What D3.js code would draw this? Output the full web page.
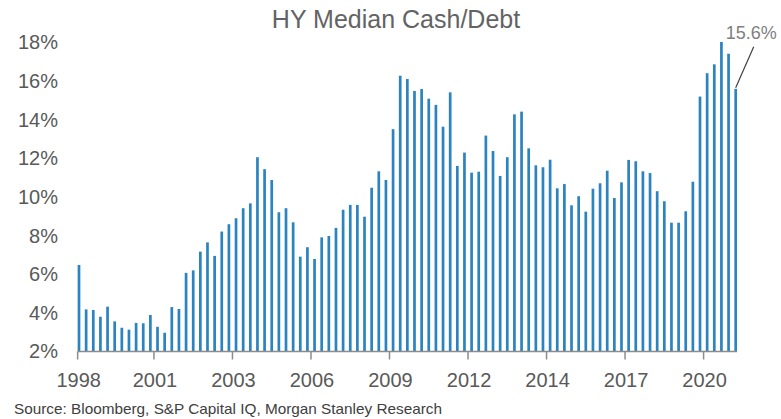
<!DOCTYPE html>
<html>
<head>
<meta charset="utf-8">
<script src="https://cdn.jsdelivr.net/npm/d3@7"></script>
<style>
  body { margin: 0; background: #fff; }
  text { font-family: "Liberation Sans", Arial, sans-serif; }
</style>
</head>
<body>
<svg id="chart"></svg>
<script>
// quarterly HY median cash/debt, 1998Q1 .. 2021Q1 (%)
var startYear = 1998;
var cashDebt = [
  6.48, 4.18, 4.15, 3.80,
  4.32, 3.56, 3.23, 3.13,
  3.48, 3.46, 3.89, 3.28,
  2.97, 4.30, 4.20, 6.07,
  6.20, 7.17, 7.65, 6.95,
  8.21, 8.59, 8.90, 9.42,
  9.67, 12.06, 11.44, 10.88,
  9.21, 9.42, 8.69, 6.91,
  7.40, 6.79, 7.91, 7.98,
  8.40, 9.34, 9.59, 9.59,
  8.98, 10.48, 11.33, 10.88,
  13.51, 16.28, 16.11, 15.49,
  15.59, 15.09, 14.77, 13.64,
  15.42, 11.61, 12.30, 11.26,
  11.31, 13.18, 12.38, 11.09,
  12.06, 14.28, 14.42, 12.52,
  11.64, 11.54, 11.93, 10.45,
  10.67, 9.57, 10.04, 9.24,
  10.43, 10.71, 11.36, 9.95,
  10.76, 11.92, 11.85, 11.33,
  11.24, 10.30, 9.78, 8.67,
  8.67, 9.26, 10.79, 15.20,
  16.41, 16.87, 18.03, 17.42,
  15.6
];
// x tick labels, one every 11 quarters
var tickLabels = ["1998", "2001", "2003", "2006", "2009", "2012", "2014", "2017", "2020"];
var tickEvery = 11;
var yTicks = [2, 4, 6, 8, 10, 12, 14, 16, 18];

var quarters = cashDebt.map(function(d, i) {
  return (startYear + Math.floor(i / 4)) + "Q" + (i % 4 + 1);
});

var width = 781, height = 419;
var svg = d3.select("#chart").attr("width", width).attr("height", height);

var barW = 2.7;
var x = d3.scalePoint()
    .domain(quarters)
    .range([79, 735.7]);
var step = x.step();

var y = d3.scaleLinear()
    .domain([2, 18])
    .range([351.5, 42.5]);

// title
svg.append("text")
    .attr("x", 396)
    .attr("y", 28)
    .attr("text-anchor", "middle")
    .style("font-size", "25px")
    .style("fill", "#636363")
    .text("HY Median Cash/Debt");

// y axis labels (no line)
var yAxis = d3.axisLeft(y)
    .tickValues(yTicks)
    .tickSize(0)
    .tickPadding(0)
    .tickFormat(function(d) { return d + "%"; });

var gy = svg.append("g")
    .attr("transform", "translate(58,0)")
    .call(yAxis);
gy.select(".domain").remove();
gy.selectAll("text")
    .style("font-size", "20px")
    .style("font-family", "'Liberation Sans', Arial, sans-serif")
    .style("fill", "#595959");

// bars
svg.selectAll(".bar")
    .data(cashDebt)
  .enter().append("rect")
    .attr("class", "bar")
    .attr("x", function(d, i) { return x(quarters[i]) - barW / 2; })
    .attr("width", barW)
    .attr("y", function(d) { return y(d); })
    .attr("height", function(d) { return y(2) - y(d); })
    .style("fill", "#2b83bf");

// x axis line
var x0 = x(quarters[0]) - barW / 2;
var x1 = x(quarters[quarters.length - 1]) + barW / 2;
svg.append("line")
    .attr("x1", x0).attr("x2", x1)
    .attr("y1", y(2)).attr("y2", y(2))
    .style("stroke", "#8c8c8c")
    .style("stroke-width", 1.5);

// ticks sit on category boundaries, the first on the axis start
var ticks = tickLabels.map(function(lbl, k) {
  var idx = k * tickEvery;
  var tx = k === 0 ? x0 : x(quarters[idx]) - step / 2;
  return {label: lbl, x: tx};
});

var gx = svg.append("g");
gx.selectAll("line")
    .data(ticks)
  .enter().append("line")
    .attr("x1", function(d) { return d.x; })
    .attr("x2", function(d) { return d.x; })
    .attr("y1", y(2))
    .attr("y2", y(2) + 8)
    .style("stroke", "#8c8c8c")
    .style("stroke-width", 1.5);

gx.selectAll("text")
    .data(ticks)
  .enter().append("text")
    .attr("x", function(d) { return d.x + 1; })
    .attr("y", 387)
    .attr("text-anchor", "middle")
    .style("font-size", "20px")
    .style("fill", "#595959")
    .text(function(d) { return d.label; });

// last value callout
var last = cashDebt.length - 1;
var lx = x(quarters[last]), ly = y(cashDebt[last]);
svg.append("line")
    .attr("x1", lx).attr("y1", ly - 1)
    .attr("x2", lx + 18).attr("y2", ly - 42)
    .style("stroke", "#404040")
    .style("stroke-width", 1.2);
svg.append("text")
    .attr("x", lx - 10)
    .attr("y", ly - 50)
    .style("font-size", "18px")
    .style("fill", "#7f7f7f")
    .text(d3.format(".1f")(cashDebt[last]) + "%");

// source
svg.append("text")
    .attr("x", 14)
    .attr("y", 414)
    .attr("textLength", 428)
    .attr("lengthAdjust", "spacingAndGlyphs")
    .style("font-size", "15px")
    .style("fill", "#404040")
    .text("Source: Bloomberg, S&P Capital IQ, Morgan Stanley Research");
</script>
</body>
</html>
